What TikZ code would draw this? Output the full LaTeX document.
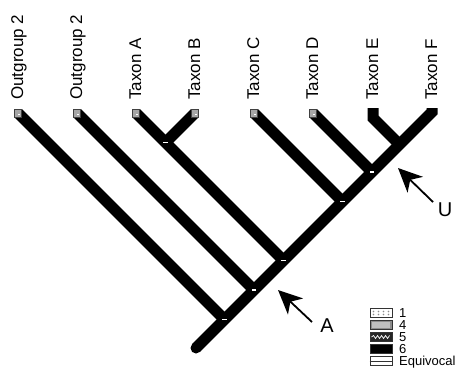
\documentclass[tikz,border=0pt]{standalone}
\usepackage{fontspec}
\setmainfont{Liberation Sans}
\usetikzlibrary{arrows.meta}
\begin{document}
\begin{tikzpicture}[x=1pt,y=-1pt,
  branch/.style={line width=11pt, line cap=butt, line join=miter, draw=black},
  tipbox/.style={draw=black!75, fill=black!35, minimum size=7.5pt, inner sep=0pt, line width=0.9pt},
  taxlabel/.style={rotate=90, anchor=mid west, inner sep=0pt, font=\fontsize{17}{17}\selectfont},
  pointer/.style={line width=1.8pt, -{Stealth[length=24pt,width=22pt,inset=7pt]}},
  arrlabel/.style={inner sep=0pt, font=\fontsize{20}{20}\selectfont},
  legbox/.style={draw=black!80, line width=0.9pt, minimum width=22pt, minimum height=8.5pt, inner sep=0pt},
  leglabel/.style={anchor=base west, inner sep=0pt, font=\fontsize{13}{13}\selectfont},
  nodemark/.style={fill=white, minimum width=4.5pt, minimum height=1.6pt, inner sep=0pt}
]
\useasboundingbox (0,0) rectangle (470,383);

% tips
\coordinate (t1) at (18,113);
\coordinate (t2) at (77,113);
\coordinate (tA) at (136,113);
\coordinate (tB) at (195,113);
\coordinate (tC) at (254,113);
\coordinate (tD) at (313,113);
\coordinate (eT) at (373,108);
\coordinate (eB) at (373,118);
\coordinate (fT) at (432,108);
\coordinate (fB) at (432,112);

% internal nodes
\coordinate (root) at (196,348);
\coordinate (n1) at (224.5,319.5);
\coordinate (n2) at (254,290);
\coordinate (nA) at (283.5,260.5);
\coordinate (nAB) at (165.5,142.5);
\coordinate (nC) at (342.5,201.5);
\coordinate (nD) at (372,172);
\coordinate (nEF) at (399.5,144.5);

% branches
\draw[branch] (fT) -- (fB) -- (root);
\fill (root) circle (5.5pt);
\draw[branch] (eT) -- (eB) -- (nEF);
\draw[branch] (t1) -- (n1);
\draw[branch] (t2) -- (n2);
\draw[branch] (tA) -- (nA);
\draw[branch] (tB) -- (nAB);
\draw[branch] (tC) -- (nC);
\draw[branch] (tD) -- (nD);

% node marks
\foreach \n in {n1,n2,nA,nAB,nC,nD}
  \node[nodemark] at (\n) {};

% tip boxes
\foreach \t in {t1,t2,tA,tB,tC,tD} {
  \node[tipbox] (\t box) at ([yshift=-0.5pt]\t) {};
  \fill[white] (\t box.center) rectangle ++(2pt,-1.5pt);
}

% labels
\node[taxlabel] (L1) at (20.5,100) {Outgroup 2};
\node[taxlabel] (L2) at (79.5,100) {Outgroup 2};
\node[taxlabel] (LA) at (138.5,100) {Taxon A};
\node[taxlabel] (LB) at (197.5,100) {Taxon B};
\node[taxlabel] (LC) at (256.5,100) {Taxon C};
\node[taxlabel] (LD) at (315.5,100) {Taxon D};
\node[taxlabel] (LE) at (375.5,100) {Taxon E};
\node[taxlabel] (LF) at (434.5,100) {Taxon F};

% arrows
\coordinate (uTail) at (433,202);
\coordinate (uTip) at (398,168);
\draw[pointer] (uTail) -- (uTip);
\node[arrlabel] (U) at (445,210) {U};
\coordinate (aTail) at (312,322);
\coordinate (aTip) at (278,290);
\draw[pointer] (aTail) -- (aTip);
\node[arrlabel] (A) at (327,326) {A};

% legend
\node[legbox, fill=white] (g1) at (381,313) {};
\foreach \dx in {-7.5,-2.5,2.5,7.5}
  \foreach \dy in {-1.5,1.5}
    \fill[black!45] ([xshift=\dx pt, yshift=\dy pt]g1.center) circle (0.9pt);
\node[legbox, fill=black!45] (g4) at (381,325) {};
\fill[black!25] ([xshift=2pt,yshift=-2pt]g4.north west) rectangle ([xshift=-2pt,yshift=2pt]g4.south east);
\node[legbox, fill=black!85] (g5) at (381,337) {};
\draw[white, line width=0.7pt] ([xshift=2pt]g5.west) -- ++(2,-1.5) -- ++(2,3) -- ++(2,-3) -- ++(2,3) -- ++(2,-3) -- ++(2,3) -- ++(2,-3) -- ++(2,3) -- ++(2,-3);
\node[legbox, fill=black] (g6) at (381,349) {};
\node[legbox, fill=white] (ge) at (381,361) {};
\draw[black!80, line width=0.9pt] (ge.west) -- (ge.east);

\node[leglabel] (k1) at (399,317.5) {1};
\node[leglabel] (k4) at (399,329.5) {4};
\node[leglabel] (k5) at (399,341.5) {5};
\node[leglabel] (k6) at (399,353.5) {6};
\node[leglabel] (ke) at (399,365.5) {Equivocal};
\end{tikzpicture}
\end{document}
